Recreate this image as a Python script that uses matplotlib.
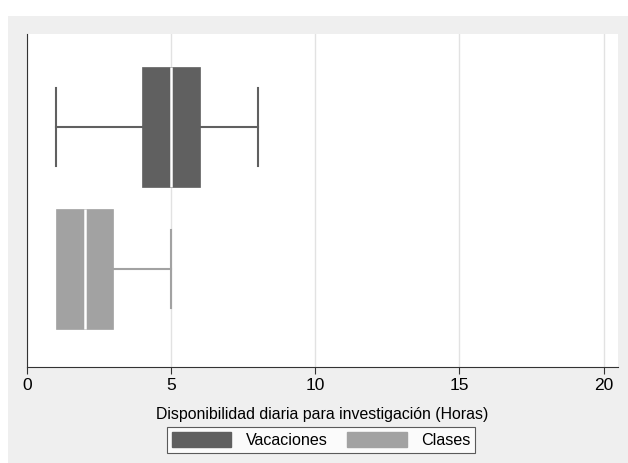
import matplotlib
matplotlib.use("Agg")
import matplotlib.pyplot as plt
from matplotlib.patches import Rectangle, Patch

plt.rcParams['font.family'] = ['Liberation Sans', 'DejaVu Sans']

categories = ["Vacaciones", "Clases"]
whislo = [1, 1]
q1 = [4, 1]
med = [5, 2]
q3 = [6, 3]
whishi = [8, 5]
colors = ["#606060", "#a2a2a2"]
xticks = [0, 5, 10, 15, 20]
xlabel = "Disponibilidad diaria para investigación (Horas)"

fig = plt.figure(figsize=(6.28, 4.63), dpi=100)
fig.patch.set_facecolor("white")
fig.patches.append(Rectangle((8 / 628, 0), 1 - 8 / 628, 1 - 16 / 463,
                             transform=fig.transFigure, facecolor="#efefef",
                             edgecolor="none", zorder=-10))

ax = fig.add_axes([27 / 628, 1 - 367 / 463, (618 - 27) / 628, (367 - 34) / 463])
ax.set_facecolor("white")

positions = [1, 0]
for i, name in enumerate(categories):
    stats = [dict(whislo=whislo[i], q1=q1[i], med=med[i], q3=q3[i],
                  whishi=whishi[i], fliers=[], label=name)]
    art = ax.bxp(stats, positions=[positions[i]], vert=False, widths=0.84,
                 capwidths=0.55, patch_artist=True, showfliers=False,
                 boxprops=dict(facecolor=colors[i], edgecolor=colors[i], linewidth=0.5),
                 whiskerprops=dict(color=colors[i], linewidth=1.5),
                 capprops=dict(color=colors[i], linewidth=1.5),
                 medianprops=dict(color="white", linewidth=1.8), zorder=3)
    # hide degenerate caps that sit on the box edge
    if whislo[i] == q1[i]:
        art["caps"][0].set_visible(False)
        art["whiskers"][0].set_visible(False)
    if whishi[i] == q3[i]:
        art["caps"][1].set_visible(False)
        art["whiskers"][1].set_visible(False)

ax.set_xlim(0, 20.5)
ax.set_ylim(-0.69, 1.655)
ax.set_xticks(xticks)
ax.set_xticklabels([str(t) for t in xticks], fontsize=12.5)
ax.set_yticks([])
ax.grid(axis="x", color="#e2e2e2", linewidth=1.0, zorder=0)
ax.set_axisbelow(True)
for s in ["top", "right"]:
    ax.spines[s].set_visible(False)
ax.spines["left"].set_color("#333333")
ax.spines["bottom"].set_color("#333333")
ax.tick_params(axis="x", direction="out", length=5, color="#333333", pad=3)
ax.set_xlabel(xlabel, fontsize=11.4, labelpad=10)

handles = [Patch(facecolor=colors[0], edgecolor=colors[0]),
           Patch(facecolor=colors[1], edgecolor=colors[1])]
leg = fig.legend(handles, categories, loc="center", ncol=2,
                 bbox_to_anchor=(321 / 628, 1 - 440 / 463), fontsize=11.6,
                 frameon=True, fancybox=False, edgecolor="#333333",
                 handlelength=3.7, handleheight=1.0, columnspacing=1.2,
                 borderpad=0.3, handletextpad=0.9)
leg.get_frame().set_linewidth(0.8)

fig.savefig("out.png", dpi=100)
